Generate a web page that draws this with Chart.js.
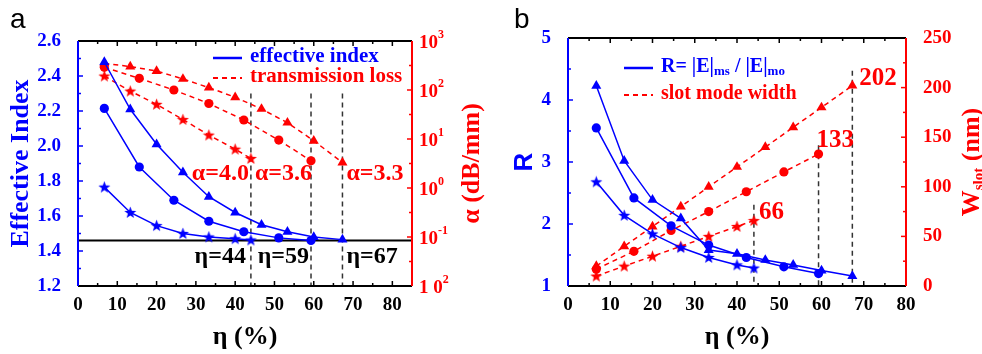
<!DOCTYPE html>
<html>
<head>
<meta charset="utf-8">
<script src="https://cdn.jsdelivr.net/npm/chart.js@4"></script>
<style>
  body { margin: 0; background: #fff; }
  #wrap { position: relative; width: 982px; height: 354px; }
  .panel { position: absolute; top: 0; width: 491px; height: 354px; }
</style>
</head>
<body>
<div id="wrap">
  <div class="panel" style="left:0"><canvas id="chartA" width="491" height="354"></canvas></div>
  <div class="panel" style="left:491px"><canvas id="chartB" width="491" height="354"></canvas></div>
</div>
<script>
// ---- panel a : effective index + transmission loss
const etaTri  = [6.7, 13.3, 20, 26.7, 33.3, 40, 46.7, 53.3, 60, 67.3];
const etaCirc = [6.7, 15.6, 24.4, 33.3, 42.2, 51.1, 59.3];
const etaStar = [6.7, 13.3, 20, 26.7, 33.3, 40, 44];

const neffTri  = [2.48, 2.21, 2.01, 1.85, 1.71, 1.62, 1.55, 1.51, 1.48, 1.465];
const neffCirc = [2.215, 1.88, 1.69, 1.57, 1.51, 1.475, 1.46];
const neffStar = [1.765, 1.62, 1.545, 1.50, 1.48, 1.47, 1.463];

const lossTri  = [350, 300, 244, 168, 112, 71, 41, 21.5, 9.2, 3.3];
const lossCirc = [290, 173, 100, 53, 24.4, 9.5, 3.6];
const lossStar = [193, 95, 51, 25, 12, 6.2, 4.0];

const etaCut = [44, 59.3, 67.3];
const cutTopA = 2.3;
const cladIndex = 1.46;
const alphaLabels = ['α=4.0', 'α=3.6', 'α=3.3'];
const etaLabels = ['η=44', 'η=59', 'η=67'];

const etaTickVals = [0, 10, 20, 30, 40, 50, 60, 70, 80];
const lossTickVals = [1000, 100, 10, 1, 0.1, 0.01];
const lossTickLabels = [['10', '3'], ['10', '2'], ['10', '1'], ['10', '0'], ['10', '-1'], ['1 0', '2']];

// ---- panel b : field ratio + slot mode width
const rTri  = [4.23, 3.02, 2.39, 2.09, 1.58, 1.52, 1.42, 1.34, 1.25, 1.16];
const rCirc = [3.55, 2.42, 1.97, 1.66, 1.46, 1.31, 1.20];
const rStar = [2.68, 2.14, 1.84, 1.62, 1.46, 1.34, 1.29];

const wTri  = [20, 40, 60, 80, 100, 120, 140, 160, 180, 202];
const wCirc = [17, 35, 56, 75, 95, 115, 133];
const wStar = [10, 20, 30, 40, 50, 60, 66];

const cutTopB = [82, 142, 217];
const widthLabels = ['66', '133', '202'];


const blue = '#0000ff';
const red = '#ff0000';
const serif = "'Liberation Serif', serif";
const sans = "'Liberation Sans', sans-serif";

Chart.defaults.font.family = serif;
Chart.defaults.font.style = undefined;

function starImage(color) {
    const c = document.createElement('canvas');
    c.width = 13;
    c.height = 13;
    const g = c.getContext('2d');
    g.fillStyle = color;
    g.beginPath();
    for (let i = 0; i < 10; i++) {
        const r = i % 2 ? 2.6 : 6.3;
        const a = -Math.PI / 2 + i * Math.PI / 5;
        const px = 6.5 + r * Math.cos(a), py = 6.9 + r * Math.sin(a);
        if (i) g.lineTo(px, py); else g.moveTo(px, py);
    }
    g.closePath();
    g.fill();
    return c;
}
const blueStar = starImage(blue);
const redStar = starImage(red);

function xy(xs, ys) {
    return xs.map((x, i) => ({ x: x, y: ys[i] }));
}

function series(xs, ys, color, style, axis, dashed, r) {
    return {
        data: xy(xs, ys),
        yAxisID: axis,
        borderColor: color,
        backgroundColor: color,
        borderWidth: 1.5,
        borderDash: dashed ? [5, 4] : [],
        pointStyle: style,
        pointRadius: r,
        pointHoverRadius: r,
        pointBorderWidth: 0,
        tension: 0
    };
}

function cutLine(x, top, bottom, axis) {
    return {
        data: [{ x: x, y: top }, { x: x, y: bottom }],
        yAxisID: axis,
        borderColor: '#333',
        borderWidth: 1.5,
        borderDash: [5, 4],
        pointRadius: 0
    };
}

function tickFont(size) {
    return { family: serif, size: size, weight: 'bold', style: 'normal' };
}

// inward ticks and coloured frame, like the origin plot
function frame(leftColor, rightColor) {
    return {
        id: 'frame',
        afterDatasetsDraw(chart) {
            const { ctx, chartArea: { left, right, top, bottom } } = chart;
            const sx = chart.scales.x, yl = chart.scales.yL, yr = chart.scales.yR;
            ctx.save();
            ctx.lineWidth = 1.5;
            const seg = (x1, y1, x2, y2, c) => {
                ctx.strokeStyle = c;
                ctx.beginPath();
                ctx.moveTo(x1, y1);
                ctx.lineTo(x2, y2);
                ctx.stroke();
            };
            for (let v = 0; v <= sx.max; v += 5) {
                const px = sx.getPixelForValue(v);
                const len = v % 10 === 0 ? 5 : 3;
                seg(px, bottom, px, bottom - len, '#000');
                seg(px, top, px, top + len, '#000');
            }
            [[yl, left, 1, leftColor], [yr, right, -1, rightColor]].forEach(([s, x0, dir, c]) => {
                const pys = s.ticks.map(t => s.getPixelForValue(t.value));
                pys.forEach((py, i) => {
                    seg(x0, py, x0 + dir * 5, py, c);
                    if (i > 0) {
                        const m = (py + pys[i - 1]) / 2;
                        seg(x0, m, x0 + dir * 3, m, c);
                    }
                });
            });
            ctx.lineWidth = 2;
            seg(left, top, right, top, '#000');
            seg(left, bottom, right, bottom, '#000');
            seg(left, top, left, bottom, leftColor);
            seg(right, top, right, bottom, rightColor);
            ctx.restore();
        }
    };
}

function say(ctx, str, x, y, font, color, align) {
    ctx.font = font;
    ctx.fillStyle = color;
    ctx.textAlign = align || 'left';
    ctx.textBaseline = 'middle';
    ctx.fillText(str, x, y);
}

// parts: [text, font, dy]
function rich(ctx, parts, x, y, color) {
    ctx.fillStyle = color;
    ctx.textAlign = 'left';
    ctx.textBaseline = 'middle';
    let cx = x;
    parts.forEach(([t, f, dy]) => {
        ctx.font = f;
        ctx.fillText(t, cx, y + dy);
        cx += ctx.measureText(t).width;
    });
    return cx - x;
}

function richWidth(ctx, parts) {
    let w = 0;
    parts.forEach(([t, f]) => { ctx.font = f; w += ctx.measureText(t).width; });
    return w;
}

function rotatedTitle(ctx, parts, x, y, color) {
    ctx.save();
    ctx.translate(x, y);
    ctx.rotate(-Math.PI / 2);
    const w = richWidth(ctx, parts);
    rich(ctx, parts, -w / 2, 0, color);
    ctx.restore();
}

function legendRow(ctx, y, x0, color, dashed) {
    ctx.save();
    ctx.strokeStyle = color;
    ctx.lineWidth = dashed ? 2 : 2.5;
    ctx.setLineDash(dashed ? [5, 4] : []);
    ctx.beginPath();
    ctx.moveTo(x0, y);
    ctx.lineTo(x0 + 29, y);
    ctx.stroke();
    ctx.restore();
}

const titleFont = 'bold 26px ' + serif;

const decorA = {
    id: 'decorA',
    afterDraw(chart) {
        const { ctx, chartArea } = chart;
        const sx = chart.scales.x, yl = chart.scales.yL, yr = chart.scales.yR;
        const midY = (chartArea.top + chartArea.bottom) / 2;
        ctx.save();
        ctx.font = '28px ' + sans;
        ctx.fillStyle = '#000';
        ctx.textBaseline = 'alphabetic';
        ctx.fillText('a', 10, 28);

        legendRow(ctx, 58, 213, blue, false);
        say(ctx, 'effective index', 250, 57, 'bold 21px ' + serif, blue);
        legendRow(ctx, 78, 213, red, true);
        say(ctx, 'transmission loss', 250, 77, 'bold 21px ' + serif, red);

        const big = 'bold 24px ' + serif;
        const ay = yl.getPixelForValue(1.84), ey = yl.getPixelForValue(1.366);
        const alphaAlign = [['right', -2], ['right', 1], ['left', 4]];
        const etaAlign = [['right', -5], ['right', -2], ['left', 4]];
        etaCut.forEach((v, i) => {
            const px = sx.getPixelForValue(v);
            say(ctx, alphaLabels[i], px + alphaAlign[i][1], ay, big, red, alphaAlign[i][0]);
            say(ctx, etaLabels[i], px + etaAlign[i][1], ey, big, '#000', etaAlign[i][0]);
        });

        lossTickVals.forEach((v, i) => {
            const py = yr.getPixelForValue(v) + 2;
            const [base, ex] = lossTickLabels[i];
            rich(ctx, [[base, 'bold 19px ' + serif, 0], [ex, 'bold 12px ' + serif, -8]], chartArea.right + 7, py, red);
        });

        rotatedTitle(ctx, [['Effective Index', titleFont, 0]], 21, midY, blue);
        rotatedTitle(ctx, [['α (dB/mm)', titleFont, 0]], 472, midY, red);
        say(ctx, 'η (%)', (chartArea.left + chartArea.right) / 2, 337, titleFont, '#000', 'center');
        ctx.restore();
    }
};

const decorB = {
    id: 'decorB',
    afterDraw(chart) {
        const { ctx, chartArea } = chart;
        const sx = chart.scales.x, yr = chart.scales.yR;
        const midY = (chartArea.top + chartArea.bottom) / 2;
        ctx.save();
        ctx.font = '28px ' + sans;
        ctx.fillStyle = '#000';
        ctx.textBaseline = 'alphabetic';
        ctx.fillText('b', 23, 28);

        const f = 'bold 20px ' + serif, fs = 'bold 13px ' + serif;
        legendRow(ctx, 68, 133, blue, false);
        rich(ctx, [['R= |E|', f, 0], ['ms', fs, 5], [' / |E|', f, 0], ['mo', fs, 5]], 170, 67, blue);
        legendRow(ctx, 95, 133, red, true);
        say(ctx, 'slot mode width', 170, 94, f, red);

        const labelAt = [74.5, 147, 209];
        const dx = [5, -2, 7];
        etaCut.forEach((v, i) => {
            const px = sx.getPixelForValue(v);
            say(ctx, widthLabels[i], px + dx[i], yr.getPixelForValue(labelAt[i]), 'bold 25px ' + serif, red);
        });

        rotatedTitle(ctx, [['R', 'bold 26px ' + sans, 0]], 34, midY, blue);
        rotatedTitle(ctx, [['W', titleFont, 0], ['slot', 'bold 15px ' + serif, 7], [' (nm)', titleFont, 0]],
            481, midY, red);
        say(ctx, 'η (%)', (chartArea.left + chartArea.right) / 2, 337, titleFont, '#000', 'center');
        ctx.restore();
    }
};

function xScale(max, h) {
    return {
        type: 'linear',
        min: 0,
        max: max,
        afterBuildTicks: s => { s.ticks = etaTickVals.map(v => ({ value: v })); },
        afterFit: s => { s.height = h; },
        ticks: { color: '#000', font: tickFont(19), padding: 0, maxRotation: 0, autoSkip: false },
        grid: { display: false },
        border: { display: false }
    };
}

let chartA = new Chart(document.getElementById('chartA'), {
    type: 'line',
    data: {
        datasets: [
            series(etaTri, neffTri, blue, 'triangle', 'yL', false, 5.8),
            series(etaCirc, neffCirc, blue, 'circle', 'yL', false, 4.6),
            series(etaStar, neffStar, blue, blueStar, 'yL', false, 5),
            series(etaTri, lossTri, red, 'triangle', 'yR', true, 5.8),
            series(etaCirc, lossCirc, red, 'circle', 'yR', true, 4.6),
            series(etaStar, lossStar, red, redStar, 'yR', true, 5),
            {
                data: [{ x: 0, y: cladIndex }, { x: 85, y: cladIndex }],
                yAxisID: 'yL',
                borderColor: '#000',
                borderWidth: 2,
                pointRadius: 0
            },
            ...etaCut.map(v => cutLine(v, cutTopA, 1.2, 'yL'))
        ]
    },
    options: {
        responsive: false,
        animation: false,
        events: [],
        layout: { padding: { top: 41, left: 0, right: 0, bottom: 0 } },
        plugins: { legend: { display: false }, tooltip: { enabled: false } },
        scales: {
            x: xScale(85, 68),
            yL: {
                position: 'left',
                min: 1.2,
                max: 2.6,
                afterFit: s => { s.width = 78; },
                ticks: { stepSize: 0.2, color: blue, font: tickFont(19), padding: 9, callback: v => v.toFixed(1) },
                grid: { display: false },
                border: { display: false }
            },
            yR: {
                type: 'logarithmic',
                position: 'right',
                min: 0.01,
                max: 1000,
                afterBuildTicks: s => { s.ticks = lossTickVals.map(v => ({ value: v })); },
                afterFit: s => { s.width = 79; },
                ticks: { display: false },
                grid: { display: false },
                border: { display: false }
            }
        }
    },
    plugins: [frame(blue, red), decorA]
});

let chartB = new Chart(document.getElementById('chartB'), {
    type: 'line',
    data: {
        datasets: [
            series(etaTri, rTri, blue, 'triangle', 'yL', false, 5.8),
            series(etaCirc, rCirc, blue, 'circle', 'yL', false, 4.6),
            series(etaStar, rStar, blue, blueStar, 'yL', false, 5),
            series(etaTri, wTri, red, 'triangle', 'yR', true, 5.8),
            series(etaCirc, wCirc, red, 'circle', 'yR', true, 4.6),
            series(etaStar, wStar, red, redStar, 'yR', true, 5),
            ...etaCut.map((v, i) => cutLine(v, cutTopB[i], 0, 'yR'))
        ]
    },
    options: {
        responsive: false,
        animation: false,
        events: [],
        layout: { padding: { top: 38, left: 0, right: 0, bottom: 0 } },
        plugins: { legend: { display: false }, tooltip: { enabled: false } },
        scales: {
            x: xScale(80, 68),
            yL: {
                position: 'left',
                min: 1,
                max: 5,
                afterFit: s => { s.width = 77; },
                ticks: { stepSize: 1, color: blue, font: tickFont(19), padding: 9 },
                grid: { display: false },
                border: { display: false }
            },
            yR: {
                position: 'right',
                min: 0,
                max: 250,
                afterFit: s => { s.width = 76; },
                ticks: { stepSize: 50, color: red, font: tickFont(19), padding: 9 },
                grid: { display: false },
                border: { display: false }
            }
        }
    },
    plugins: [frame(blue, red), decorB]
});
</script>
</body>
</html>
